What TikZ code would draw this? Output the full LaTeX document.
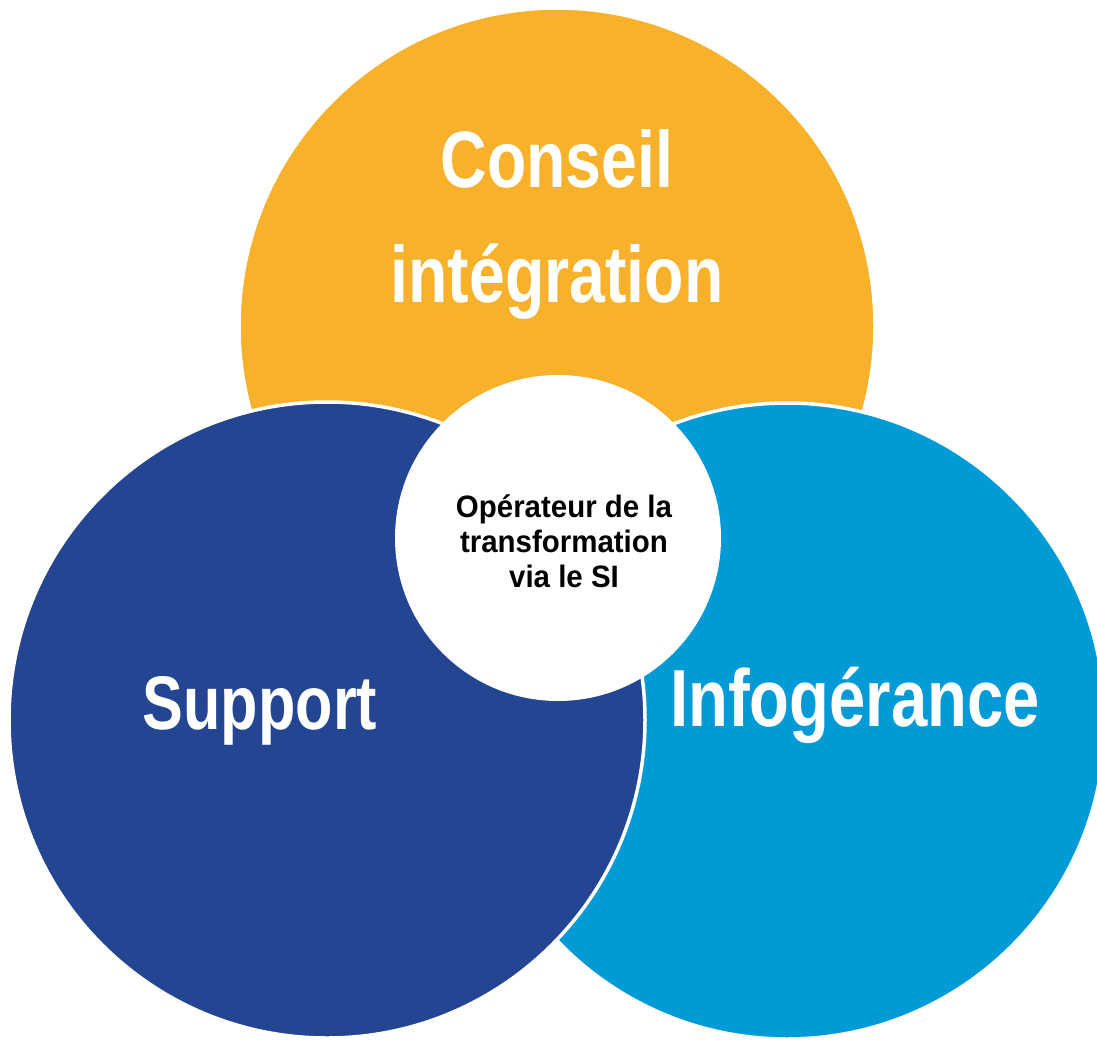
\documentclass[tikz,border=0pt]{standalone}
\usepackage{fontspec}
\newfontfamily\condbold{Liberation Sans}[FakeStretch=0.805]
\newfontfamily\midbold{Liberation Sans}[FakeStretch=0.95]
\definecolor{cOrange}{RGB}{248,177,42}
\definecolor{cDark}{RGB}{36,69,146}
\definecolor{cLight}{RGB}{0,155,215}
\tikzset{
  bigcirc/.style={circle, draw=white, line width=3.5pt, minimum size=636pt, inner sep=0pt},
  bigtext/.style={text=white, font=\condbold\bfseries\fontsize{80}{115}\selectfont, align=center, inner sep=0pt},
  midtext/.style={text=black, font=\midbold\bfseries\fontsize{31}{35}\selectfont, align=center, inner sep=0pt}
}
\begin{document}
\begin{tikzpicture}[x=1pt,y=-1pt]
\useasboundingbox (0,0) rectangle (1097,1041);
\node[bigcirc, fill=cOrange] (conseil) at (557,326) {};
\node[bigcirc, fill=cLight] (info) at (787,721) {};
\node[bigcirc, fill=cDark] (support) at (327,720) {};
\node[circle, fill=white, minimum size=326pt, inner sep=0pt] (centre) at (558,538) {};
\node[bigtext, anchor=base] (tconseil) at (557,302) {Conseil\\intégration};
\node[bigtext, anchor=base, font=\condbold\bfseries\fontsize{76}{90}\selectfont] (tsupport) at (260,729) {Support};
\node[bigtext, anchor=base, font=\condbold\bfseries\fontsize{81}{95}\selectfont] (tinfo) at (855,726) {Infogérance};
\node[midtext, anchor=base] (tcentre) at (564,587) {Opérateur de la\\transformation\\via le SI};
\end{tikzpicture}
\end{document}
